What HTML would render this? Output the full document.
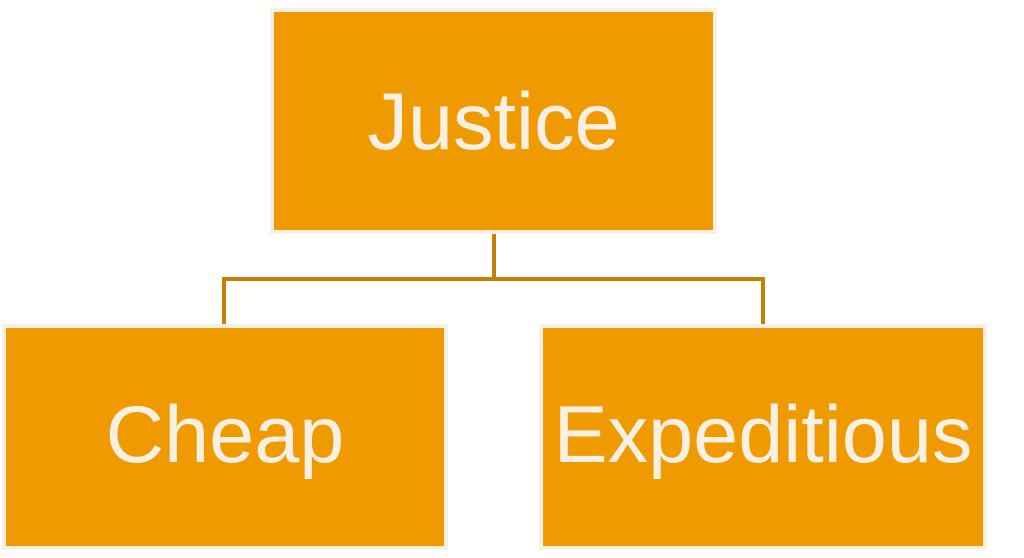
<!DOCTYPE html>
<html><head><style>
html,body{margin:0;padding:0;width:1024px;height:558px;background:#fff;overflow:hidden;position:relative;font-family:"Liberation Sans",Arial,sans-serif}
.b{position:absolute;box-sizing:border-box;background:#ef9a00;border:4px solid #f8f1e3;color:#f8f1e3;font-size:81px;display:flex;align-items:center;justify-content:center;line-height:1}
.l{position:absolute;background:#c57f04}
</style></head><body>
<div class="b" style="left:270px;top:8px;width:447px;height:226px;padding-top:2px">Justice</div>
<div class="l" style="left:492px;top:234px;width:4px;height:46px"></div>
<div class="l" style="left:222px;top:277px;width:543px;height:4px"></div>
<div class="l" style="left:222px;top:277px;width:4px;height:47px"></div>
<div class="l" style="left:761px;top:277px;width:4px;height:47px"></div>
<div class="b" style="left:2px;top:324px;width:446px;height:226px;padding-bottom:4px">Cheap</div>
<div class="b" style="left:539px;top:324px;width:448px;height:226px;padding-bottom:4px">Expeditious</div>
</body></html>
